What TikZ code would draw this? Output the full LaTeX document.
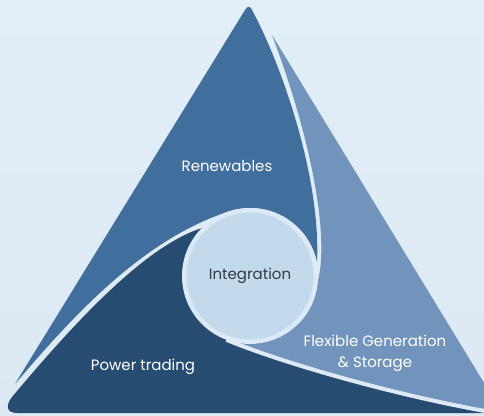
\documentclass[tikz,border=0pt]{standalone}
\usepackage{fontspec}
\setmainfont{Poppins}
\definecolor{skytop}{HTML}{E2EEF8}
\definecolor{skymid}{HTML}{EEF5FB}
\definecolor{skybot}{HTML}{DCE8F2}
\definecolor{renew}{HTML}{406E9D}
\definecolor{flex}{HTML}{7094BB}
\definecolor{trade}{HTML}{264C72}
\definecolor{hubfill}{HTML}{C3DAEC}
\definecolor{hubrim}{HTML}{DBEAF6}
\definecolor{gapline}{HTML}{DDEAF5}
\definecolor{hubtext}{HTML}{2E3A47}

\begin{document}
\begin{tikzpicture}[x=1pt,y=1pt,
  segtext/.style={font=\fontsize{15}{21}\selectfont,text=white,align=center},
  hub/.style={circle,fill=hubfill,draw=hubrim,line width=4.5pt,minimum size=131.5pt,inner sep=0pt,
    font=\fontsize{15}{18}\selectfont,text=hubtext}
]
\useasboundingbox (0,0) rectangle (484,415);
\shade[top color=skytop,middle color=skymid,bottom color=skybot] (0,0) rectangle (484,415);

\begin{scope}
\clip (0,0) rectangle (484,415);
% power trading (bottom)
\fill[trade] (202,187) .. controls (145,169) and (75,93) .. (12,18)
  .. controls (5,9) and (7,2) .. (17,2) -- (501,2) -- (250,115) -- cycle;
% renewables (top)
\fill[renew] (15,31) -- (245,405) .. controls (248,410) and (251,409) .. (253,403)
  .. controls (280,353) and (321,240) .. (317,153)
  arc[start angle=11.8,end angle=108,radius=68pt]
  .. controls (143.4,176.2) and (73.2,99.6) .. (15,31) -- cycle;
% flexible generation (right)
\fill[flex] (272,380) -- (503,1) .. controls (420,14) and (295,47) .. (226.4,75.2)
  arc[start angle=-110.3,end angle=-5,radius=68pt]
  .. controls (330,180) and (310,280) .. (272,380) -- cycle;
\draw[gapline,line width=4pt] (503,1) .. controls (420,14) and (295,47) .. (226.4,75.2);
\end{scope}

\node[hub] (integ) at (250,139) {Integration};
\node[segtext] (renewables) at (227,249) {Renewables};
\node[segtext] (flexgen) at (375,62) {Flexible Generation\\\& Storage};
\node[segtext] (trading) at (143,48) {Power trading};
\end{tikzpicture}
\end{document}
